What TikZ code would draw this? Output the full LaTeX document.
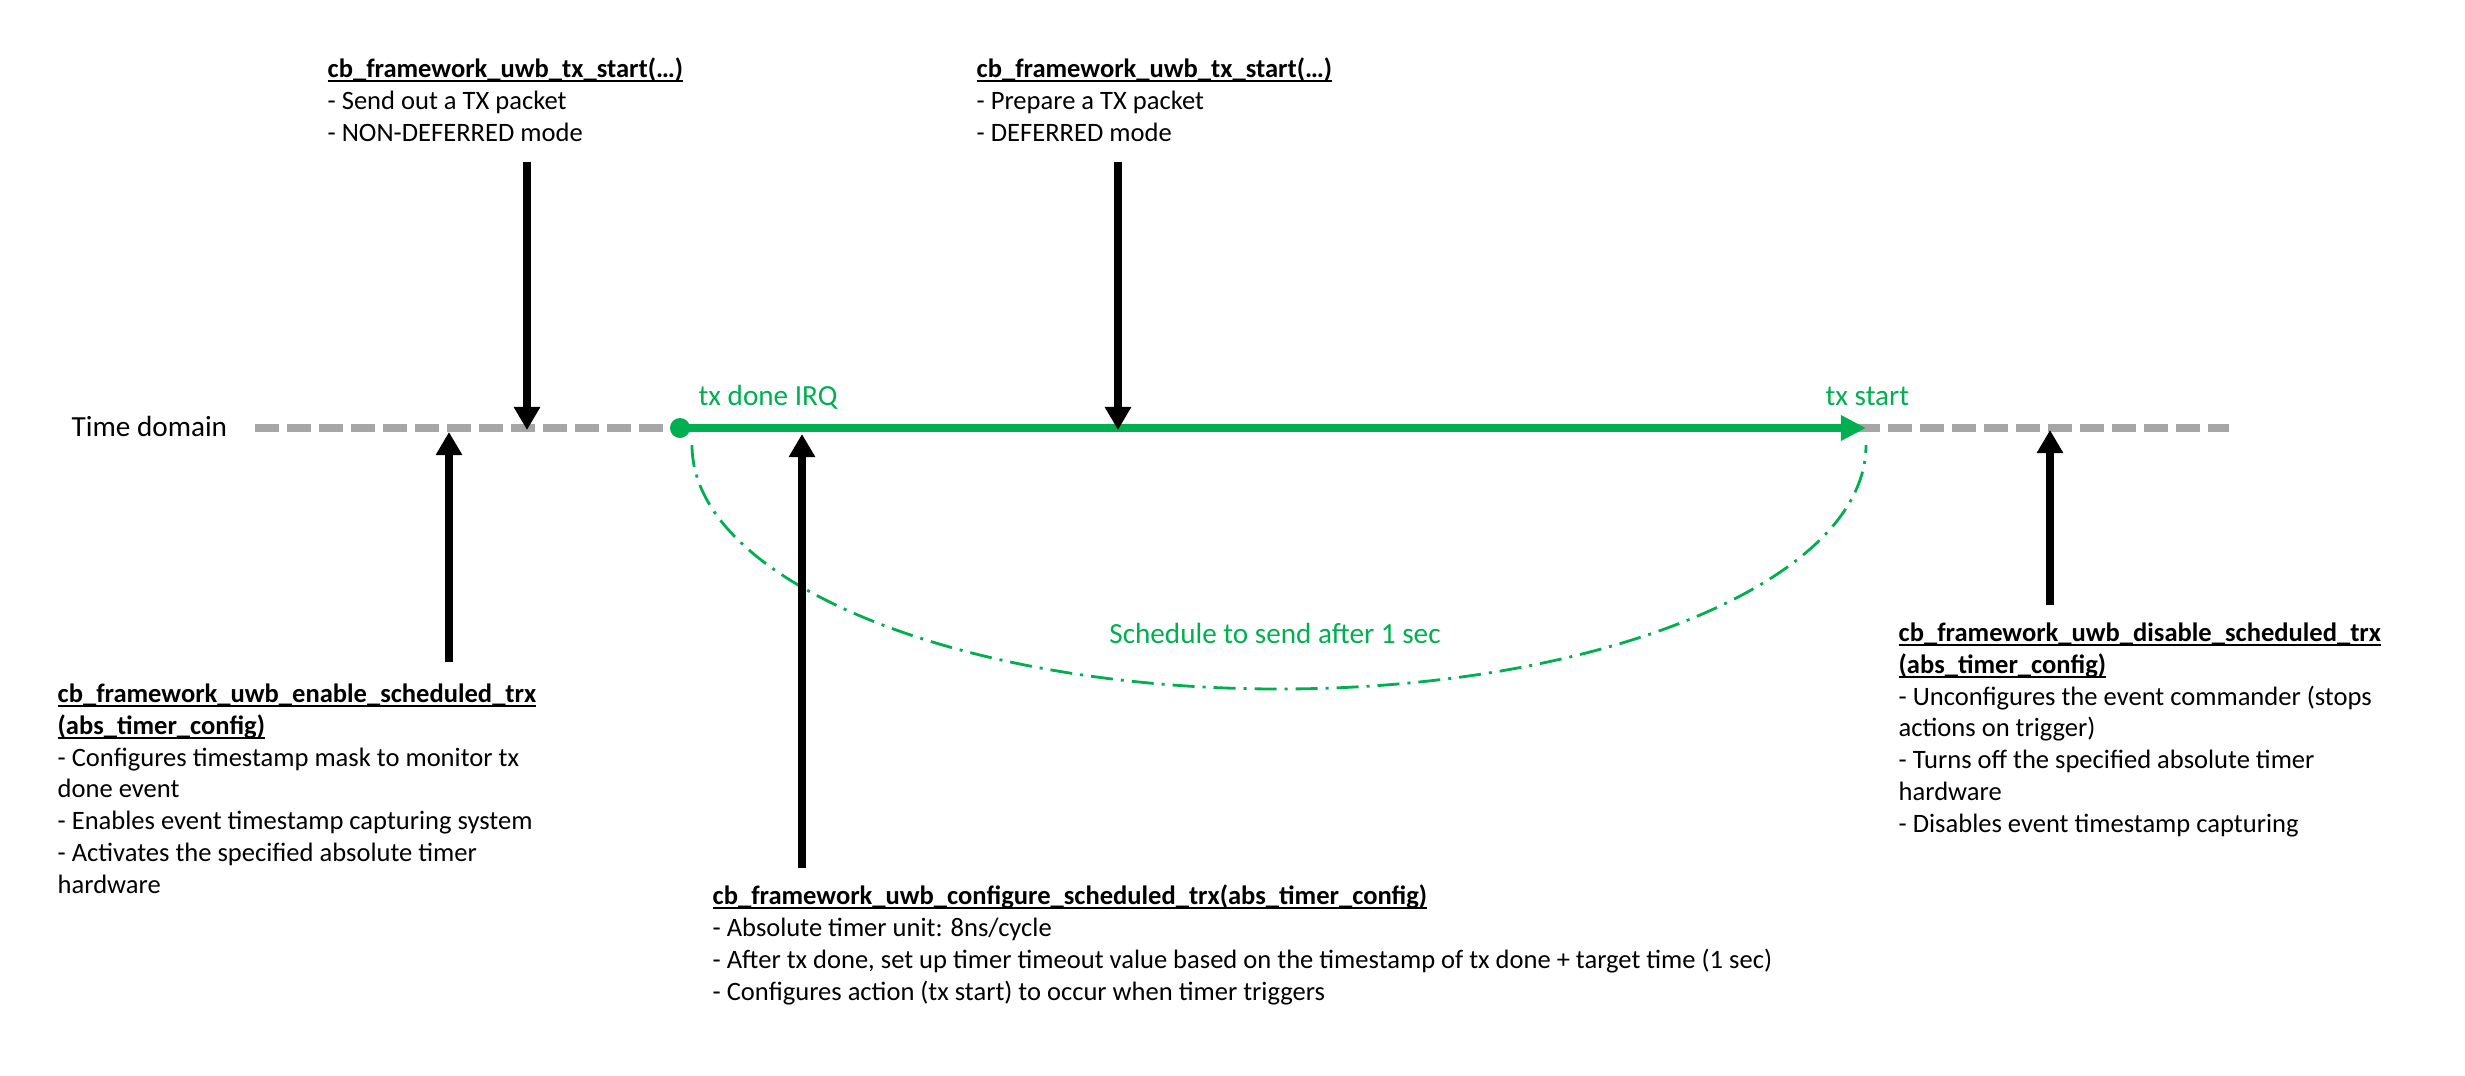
\documentclass[tikz,border=0pt]{standalone}
\usepackage{fontspec}
\setmainfont{Carlito}
\usepackage{xcolor}
\usetikzlibrary{arrows.meta}
\definecolor{officegreen}{RGB}{0,176,80}
\definecolor{linegray}{RGB}{166,166,166}
\newsavebox\fnbox
\newcommand{\fnname}[1]{\sbox\fnbox{\textbf{#1}}\rlap{\rule[-1.2pt]{\wd\fnbox}{0.5pt}}\usebox\fnbox}
\tikzset{
  % base anchor sits on the last line of a block
  callbox/.style={anchor=base west, align=left, inner sep=0pt, font=\fontsize{7.55}{9.02}\selectfont},
  greenlabel/.style={anchor=base west, inner sep=0pt, text=officegreen, font=\fontsize{8.3}{10}\selectfont},
  callarrow/.style={line width=2pt, -{Triangle[width=0.25cm,length=0.23cm]}},
}

\begin{document}
\begin{tikzpicture}[x=0.01cm, y=-0.01cm]
    \useasboundingbox (0,0) rectangle (2465,1075);

    % Time line
    \node[anchor=base west, inner sep=0pt, font=\fontsize{8.3}{10}\selectfont] (domain) at (71,436) {Time domain};
    \coordinate (lineStart) at (255,428);
    \coordinate (lineEnd) at (2229,428);
    \draw[linegray, line width=2pt, dash pattern=on 0.24cm off 0.08cm] (lineStart) -- (lineEnd);

    % Scheduled interval
    \node[circle, fill=officegreen, inner sep=0pt, minimum size=0.2cm] (irq) at (680,428) {};
    \coordinate (txstart) at (1866,428);
    \draw[officegreen, line width=0.08cm, -{Triangle[width=0.24cm,length=0.25cm]}] (irq.center) -- (txstart);
    \node[greenlabel] (irqlabel) at (698,405) {tx done IRQ};
    \node[greenlabel] (startlabel) at (1825,405) {tx start};
    \coordinate (arcStart) at (692,445);
    \draw[officegreen, line width=0.8pt, dash pattern=on 0.22cm off 0.08cm on 0.03cm off 0.08cm]
        (arcStart) arc[start angle=180, end angle=0, x radius=587, y radius=244];
    \node[greenlabel, anchor=base] (schedlabel) at (1275,643) {Schedule to send after 1 sec};

    % Calls above the line
    \node[callbox] (nondefer) at (327,141) {\fnname{cb\_framework\_uwb\_tx\_start(…)}\\- Send out a TX packet\\- NON-DEFERRED mode};
    \node[callbox] (defer) at (976,141) {\fnname{cb\_framework\_uwb\_tx\_start(…)}\\- Prepare a TX packet\\- DEFERRED mode};

    % Calls below the line
    \node[callbox] (enable) at (57,893) {\fnname{cb\_framework\_uwb\_enable\_scheduled\_trx}\\\fnname{(abs\_timer\_config)}\\- Configures timestamp mask to monitor tx\\done event\\- Enables event timestamp capturing system\\- Activates the specified absolute timer\\hardware};
    \node[callbox] (configure) at (712,1000) {\fnname{cb\_framework\_uwb\_configure\_scheduled\_trx(abs\_timer\_config)}\\- Absolute timer unit: 8ns/cycle\\- After tx done, set up timer timeout value based on the timestamp of tx done + target time (1 sec)\\- Configures action (tx start) to occur when timer triggers};
    \node[callbox] (disable) at (1898,832) {\fnname{cb\_framework\_uwb\_disable\_scheduled\_trx}\\\fnname{(abs\_timer\_config)}\\- Unconfigures the event commander (stops\\actions on trigger)\\- Turns off the specified absolute timer\\hardware\\- Disables event timestamp capturing};

    % Arrows to the time line
    \coordinate (nondeferTail) at (527,162);
    \coordinate (nondeferHead) at (527,430);
    \coordinate (deferTail) at (1118,162);
    \coordinate (deferHead) at (1118,430);
    \coordinate (enableTail) at (449,662);
    \coordinate (enableHead) at (449,432);
    \coordinate (configureTail) at (802,868);
    \coordinate (configureHead) at (802,434);
    \coordinate (disableTail) at (2050,605);
    \coordinate (disableHead) at (2050,430);
    \foreach \name in {nondefer,defer,enable,configure,disable} {
        \draw[callarrow] (\name Tail) -- (\name Head);
    }
\end{tikzpicture}
\end{document}
